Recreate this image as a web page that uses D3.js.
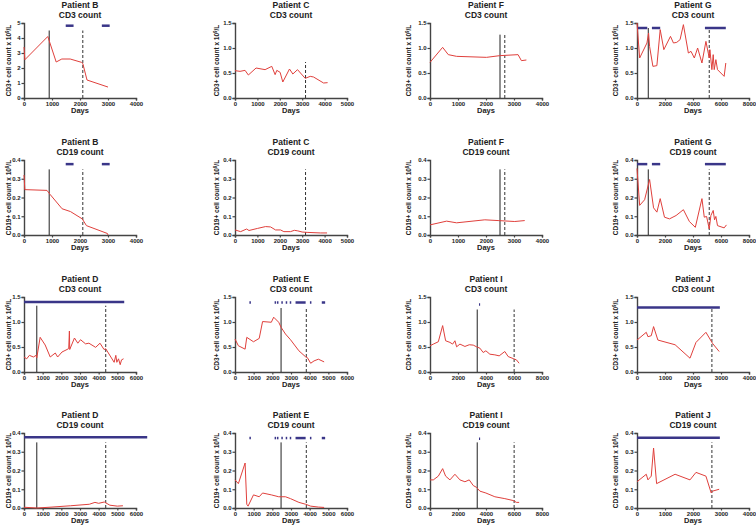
<!DOCTYPE html>
<html><head><meta charset="utf-8">
<script src="https://cdn.jsdelivr.net/npm/d3@7"></script>
<style>body{margin:0;background:#fff}svg{display:block}text{font-family:"Liberation Sans",Arial,sans-serif;font-weight:bold;fill:#222}</style>
</head><body><svg id="c" width="756" height="527"></svg>
<script>
// ---- data: [day, count x10^9/L] ----
const B_CD3=[[0,3.4],[30,2.55],[850,4.1],[1150,2.4],[1350,2.6],[1650,2.6],[2050,2.38],[2100,2.3],[2250,1.2],[3000,0.73]];
const B_CD19=[[0,0.32],[30,0.242],[820,0.238],[940,0.215],[1360,0.14],[1660,0.125],[2080,0.086],[2230,0.05],[2980,0.008],[3000,0.0]];
const C_CD3=[[0,0.547],[224,0.533],[448,0.553],[597,0.46],[940,0.6],[1343,0.567],[1642,0.633],[1791,0.467],[1866,0.553],[2015,0.513],[2134,0.32],[2433,0.58],[2582,0.48],[2791,0.567],[3134,0.393],[3358,0.433],[3507,0.42],[3955,0.3],[4134,0.307]];
const C_CD19=[[0,0.027],[252,0.018],[520,0.032],[623,0.024],[1000,0.035],[1365,0.045],[1588,0.043],[1810,0.027],[2033,0.027],[2181,0.018],[2478,0.018],[2650,0.025],[2804,0.022],[2997,0.016],[3220,0.014],[3813,0.011],[4110,0.011]];
const F_CD3=[[0,0.713],[451,1.013],[653,0.867],[950,0.833],[2018,0.813],[2493,0.847],[3145,0.867],[3264,0.747],[3442,0.76]];
const F_CD19=[[0,0.054],[593,0.074],[950,0.065],[1958,0.081],[2433,0.077],[3027,0.072],[3383,0.077]];
const G_CD3=[[0,1.5],[189,0.8],[710,1.1],[828,1.3],[900,1.03],[1136,0.633],[1420,0.647],[1657,1.367],[1917,0.967],[2391,1.233],[2604,1.1],[2840,1.113],[3077,1.167],[3314,1.467],[3669,0.9],[3858,0.933],[4095,0.8],[4331,1.0],[4639,0.7],[4923,1.133],[5160,0.8],[5207,0.967],[5349,0.567],[5444,0.867],[5515,0.567],[5633,0.767],[5751,0.567],[6225,0.433],[6343,0.7]];
const G_CD19=[[0,0.355],[189,0.158],[544,0.188],[900,0.296],[1183,0.145],[1420,0.122],[1657,0.194],[1964,0.095],[2320,0.086],[2793,0.104],[3314,0.135],[3740,0.072],[4166,0.041],[4639,0.194],[4805,0.095],[4970,0.099],[5160,0.032],[5278,0.104],[5444,0.131],[5538,0.081],[5633,0.099],[5751,0.05],[6225,0.038],[6391,0.054]];
const D_CD3=[[0,0.3],[144,0.264],[288,0.333],[505,0.3],[649,0.333],[685,0.285],[865,0.694],[1135,0.54],[1405,0.3],[1676,0.38],[1802,0.3],[2036,0.4],[2306,0.45],[2396,0.47],[2432,0.82],[2450,0.45],[2703,0.68],[2883,0.576],[3027,0.646],[3297,0.563],[3477,0.576],[3838,0.493],[4072,0.576],[4288,0.45],[4378,0.465],[4829,0.194],[4919,0.333],[4973,0.194],[5063,0.264],[5153,0.146],[5225,0.243],[5333,0.264]];
const D_CD19=[[0,0.004],[700,0.0],[1500,0.005],[2500,0.012],[3500,0.02],[3800,0.03],[4000,0.025],[4300,0.032],[4600,0.015],[5000,0.01],[5300,0.012]];
const E_CD3=[[0,0.66],[180,0.525],[541,0.457],[631,0.693],[991,0.605],[1297,0.672],[1477,1.009],[1946,0.995],[2072,1.096],[2342,0.995],[2468,0.894],[2703,0.76],[2973,0.646],[3423,0.424],[3784,0.303],[3874,0.289],[4054,0.175],[4234,0.222],[4468,0.256],[4775,0.202]];
const E_CD19=[[0,0.15],[180,0.13],[541,0.24],[631,0.02],[700,0.01],[991,0.07],[1297,0.06],[1477,0.08],[1946,0.07],[2342,0.06],[2703,0.06],[2973,0.05],[3423,0.03],[3784,0.02],[4054,0.01],[4468,0.005],[4775,0.003]];
const I_CD3=[[0,0.525],[238,0.558],[594,0.605],[903,0.928],[1116,0.625],[1425,0.592],[1615,0.558],[1781,0.625],[1900,0.504],[2138,0.558],[2494,0.511],[2803,0.545],[3088,0.538],[3325,0.504],[3563,0.477],[3800,0.39],[3990,0.424],[4276,0.356],[4632,0.343],[4941,0.323],[5344,0.41],[5582,0.309],[5938,0.269],[6176,0.242],[6366,0.175]];
const I_CD19=[[0,0.15],[238,0.15],[594,0.17],[903,0.21],[1116,0.17],[1425,0.15],[1781,0.18],[2138,0.15],[2494,0.14],[2803,0.15],[3088,0.12],[3325,0.11],[3563,0.09],[3990,0.08],[4632,0.06],[5344,0.05],[5938,0.04],[6176,0.03],[6366,0.03]];
const J_CD3=[[0,0.639],[331,0.794],[391,0.706],[509,0.726],[592,0.908],[746,0.639],[1361,0.545],[1893,0.276],[2107,0.592],[2462,0.794],[2698,0.572],[2935,0.41]];
const J_CD19=[[0,0.14],[331,0.18],[391,0.15],[509,0.17],[592,0.32],[700,0.13],[1361,0.18],[1893,0.15],[2107,0.19],[2462,0.17],[2650,0.08],[2698,0.09],[2935,0.1]];
// treatment bars [start day, end day]
const B_bars=[[1490,1770],[2780,3060]];
const G_bars=[[0,734],[1065,1657],[4852,6343]];
const D_bars=[[0,5369]];
const D_bars_CD19=[[0,6600]];
const E_bars=[[771,851],[2122,2202],[2248,2328],[2482,2562],[2717,2797],[2933,3013],[3243,3784],[4014,4094],[4649,4829]];
const I_bars=[[3500,3580]];
const J_bars=[[0,2959]];
const NO_BARS=[];
// panel config
const patients=["B","C","F","G","D","E","I","J"];
const xMaxes={B:4000,C:5000,F:4000,G:8000,D:6000,E:6000,I:8000,J:4000};
const solidDay={B:900,C:null,F:2500,G:805,D:685,E:2468,I:3373,J:null};
const dashedDay={B:2100,C:3149,F:2671,G:5160,D:4378,E:3820,I:6010,J:2675};
const seriesCD3={B:B_CD3,C:C_CD3,F:F_CD3,G:G_CD3,D:D_CD3,E:E_CD3,I:I_CD3,J:J_CD3};
const seriesCD19={B:B_CD19,C:C_CD19,F:F_CD19,G:G_CD19,D:D_CD19,E:E_CD19,I:I_CD19,J:J_CD19};
const barsCD3={B:B_bars,C:NO_BARS,F:NO_BARS,G:G_bars,D:D_bars,E:E_bars,I:I_bars,J:J_bars};
const barsCD19={B:B_bars,C:NO_BARS,F:NO_BARS,G:G_bars,D:D_bars_CD19,E:E_bars,I:I_bars,J:J_bars};
const yMaxCD3={B:5,C:1.5,F:1.5,G:1.5,D:1.5,E:1.5,I:1.5,J:1.5};
const yMaxCD19=0.4;
const vTopCD3={B:4.5,C:0.72,F:1.267,G:1.4,D:1.326,E:1.28,I:1.25,J:1.28};
const vTopCD19=0.35;
const barYCD3={B:4.82,G:1.4,D:1.4,E:1.39,I:1.35,J:1.29};
const barYCD19={B:0.378,G:0.378,D:0.377,E:0.373,I:0.37,J:0.375};

// ---- layout ----
const colX=[24,235,430,637], rowY=[23,160,297,433], W=112, H=75;
const labelOff=[13,16,19,19];
const svg=d3.select("#c");
const RED="#e0403c", PURPLE="#3a3688", AX="#444";

patients.forEach((p,i)=>{
  const col=i%4, blockRow=Math.floor(i/4)*2;
  ["CD3","CD19"].forEach((m,k)=>{
    const row=blockRow+k;
    const x0=colX[col], y0=rowY[row];
    const yMax = m==="CD3"? yMaxCD3[p] : yMaxCD19;
    const data = m==="CD3"? seriesCD3[p] : seriesCD19[p];
    const x=d3.scaleLinear().domain([0,xMaxes[p]]).range([x0,x0+W]);
    const y=d3.scaleLinear().domain([0,yMax]).range([y0+H,y0]);
    const g=svg.append("g");
    // title
    const ty = row===0? 8 : y0-15;
    g.append("text").attr("x",x0+W/2).attr("y",ty).attr("text-anchor","middle").attr("font-size",8.5).text("Patient "+p);
    g.append("text").attr("x",x0+W/2).attr("y",ty+9.5).attr("text-anchor","middle").attr("font-size",8.5).text(m+" count");
    // axes
    const xStep = xMaxes[p]/4>=2000? 2000 : 1000;
    const xTicks=d3.range(0,xMaxes[p]+1,xStep);
    const yStep = m==="CD3"? (yMax===5?1:0.5) : 0.1;
    const yTicks=d3.range(0,yMax+yStep/2,yStep);
    const fmt = yMax===5? d3.format("d") : d3.format(".1f");
    const xa=g.append("g").attr("transform",`translate(0,${y0+H})`).call(d3.axisBottom(x).tickValues(xTicks).tickSize(2.5).tickPadding(1.5).tickFormat(d3.format("d")));
    const ya=g.append("g").attr("transform",`translate(${x0},0)`).call(d3.axisLeft(y).tickValues(yTicks).tickSize(2.5).tickPadding(1).tickFormat(fmt));
    [xa,ya].forEach(a=>{a.select(".domain").attr("stroke",AX).attr("stroke-width",1.4);a.selectAll(".tick line").attr("stroke",AX).attr("stroke-width",1.2);a.selectAll("text").attr("font-size",6).attr("fill","#333").attr("font-family","Liberation Sans, Arial").attr("font-weight","bold");});
    g.append("text").attr("x",x0+W/2).attr("y",y0+H+15).attr("text-anchor","middle").attr("font-size",7.5).text("Days");
    const lt=g.append("text").attr("transform",`translate(${x0-labelOff[col]},${y0+H/2}) rotate(-90)`).attr("text-anchor","middle").attr("font-size",6.5);
    lt.append("tspan").text(m+"+ cell count x 10");
    lt.append("tspan").attr("dy",-2.5).attr("font-size",4.5).text("9");
    lt.append("tspan").attr("dy",2.5).text("/L");
    // vertical event lines
    const vTop = m==="CD3"? vTopCD3[p] : vTopCD19;
    if(solidDay[p]!=null) g.append("line").attr("x1",x(solidDay[p])).attr("x2",x(solidDay[p])).attr("y1",y(0)).attr("y2",y(vTop)).attr("stroke","#222").attr("stroke-width",1);
    if(dashedDay[p]!=null) g.append("line").attr("x1",x(dashedDay[p])).attr("x2",x(dashedDay[p])).attr("y1",y(0)).attr("y2",y(vTop)).attr("stroke","#333").attr("stroke-width",1).attr("stroke-dasharray","3,2");
    // treatment bars
    const by = m==="CD3"? barYCD3[p] : barYCD19[p];
    const bars = m==="CD3"? barsCD3[p] : barsCD19[p];
    g.selectAll(".bar").data(bars).enter().append("line").attr("x1",d=>x(d[0])).attr("x2",d=>x(d[1])).attr("y1",y(by)).attr("y2",y(by)).attr("stroke",PURPLE).attr("stroke-width",2.5);
    // series
    g.append("path").datum(data).attr("fill","none").attr("stroke",RED).attr("stroke-width",1).attr("d",d3.line().x(d=>x(d[0])).y(d=>y(d[1])));
  });
});
</script></body></html>
